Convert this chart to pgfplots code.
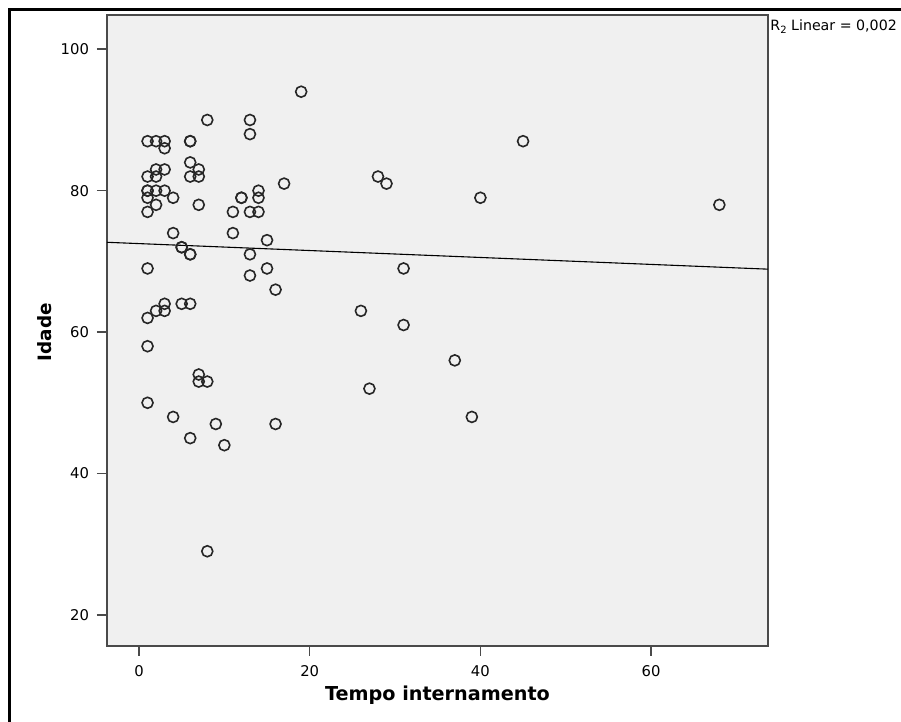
\documentclass[border=0pt]{standalone}
\usepackage{pgfplots}
\pgfplotsset{compat=1.18}
\usepackage{fontspec}
\setmainfont{DejaVu Sans}
\definecolor{plotbg}{HTML}{F0F0F0}
\definecolor{axisgray}{HTML}{4A4A4A}
\begin{document}
\begin{tikzpicture}
\useasboundingbox (-53.5pt,-38pt) rectangle (397pt,323pt);
\fill[white] (-53.5pt,-38pt) rectangle (397pt,323pt);
\draw[black, line width=1.5pt] (-48.75pt,-60pt) -- (-48.75pt,318pt) -- (420pt,318pt);
\begin{axis}[
  at={(0pt,0pt)}, anchor=south west,
  scale only axis,
  width=330.5pt, height=315.5pt,
  xmin=-3.75, xmax=73.7,
  ymin=15.6, ymax=104.85,
  xtick={0,20,40,60}, ytick={20,40,60,80,100},
  axis background/.style={fill=plotbg},
  axis line style={draw=axisgray, line width=1pt},
  tick style={draw=axisgray, line width=0.8pt},
  tick align=outside,
  major tick length=5pt,
  xtick pos=bottom, ytick pos=left,
  /pgf/number format/assume math mode=true,
  tick label style={font=\fontsize{7.4}{8}\selectfont, text=black},
  xticklabel style={yshift=-1pt},
  yticklabel style={xshift=-0.5pt},
  xlabel={Tempo internamento},
  ylabel={Idade},
  x label style={font=\bfseries\fontsize{9.6}{11}\selectfont, at={(axis description cs:0.5,-0.0777)}, anchor=center},
  y label style={font=\bfseries\fontsize{9.2}{11}\selectfont, at={(axis description cs:-0.0938,0.4976)}, anchor=center, rotate=0},
  clip=false,
]
\addplot[only marks, mark=o, mark size=2.75pt, mark options={draw=black!85, line width=0.8pt}] coordinates {
(1,87) (2,87) (3,87) (3,86) (6,87) (6,87) (8,90) (13,90) (13,88) (19,94)
(1,82) (2,83) (3,83) (2,82) (6,84) (7,83) (6,82) (7,82)
(1,80) (1,80) (2,80) (3,80) (1,79) (4,79) (2,78) (1,77) (7,78)
(17,81) (12,79) (12,79) (14,80) (14,79) (11,77) (13,77) (14,77)
(4,74) (11,74) (15,73) (5,72) (5,72) (6,71) (6,71) (13,71)
(1,69) (15,69) (13,68) (16,66)
(3,64) (5,64) (6,64) (2,63) (3,63) (1,62) (1,58)
(7,54) (7,53) (8,53) (1,50) (4,48) (9,47) (16,47) (6,45) (10,44) (8,29)
(28,82) (29,81) (45,87) (40,79) (68,78) (31,69) (26,63) (31,61) (37,56) (27,52) (39,48)
};
\addplot[black, line width=0.55pt] coordinates {(-3.75,72.7) (73.7,68.9)};
\end{axis}
\node[anchor=base west, font=\fontsize{7.1}{8}\selectfont, inner sep=0pt] at (331.5pt,307.5pt) {R\raisebox{-0.35ex}{\fontsize{5}{6}\selectfont 2} Linear = 0,002};
\end{tikzpicture}
\end{document}
